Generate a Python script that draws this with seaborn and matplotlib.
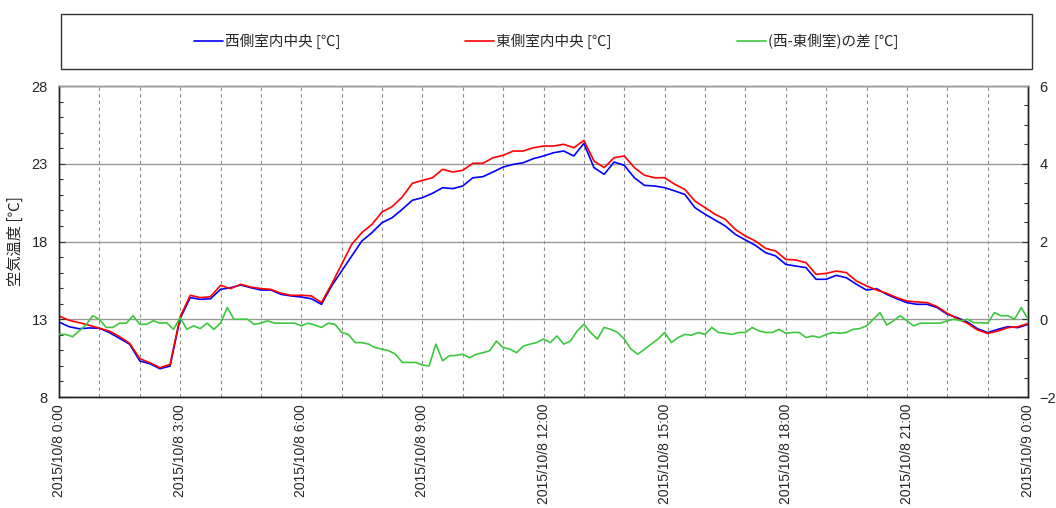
import matplotlib
matplotlib.use("Agg")
import matplotlib.pyplot as plt
from matplotlib.patches import Rectangle
from matplotlib.ticker import FixedLocator, MultipleLocator
import seaborn as sns
import pandas as pd

# ---------------- data (hours after 2015/10/8 0:00) ----------------
hours_15 = [i * 0.25 for i in range(97)]
west = [12.82, 12.52, 12.39, 12.44, 12.42, 12.14, 11.77, 11.39, 10.32, 10.14, 9.82, 9.99,
        13.05, 14.39, 14.28, 14.32, 14.92, 15.03, 15.20, 15.03, 14.88, 14.88, 14.60, 14.50,
        14.43, 14.32, 13.96, 15.14, 16.10, 17.07, 18.03, 18.57, 19.21, 19.53, 20.07, 20.65,
        20.82, 21.10, 21.46, 21.40, 21.57, 22.10, 22.17, 22.47, 22.79, 22.96, 23.07, 23.33,
        23.50, 23.71, 23.82, 23.50, 24.31, 22.75, 22.32, 23.11, 22.90, 22.10, 21.61, 21.57,
        21.46, 21.25, 21.03, 20.18, 19.75, 19.38, 19.00, 18.46, 18.10, 17.75, 17.28, 17.07,
        16.53, 16.42, 16.32, 15.57, 15.57, 15.82, 15.67, 15.25, 14.88, 14.97, 14.60, 14.32,
        14.07, 13.96, 13.96, 13.75, 13.32, 13.10, 12.82, 12.39, 12.14, 12.35, 12.52, 12.46,
        12.67]
east = [13.21, 12.93, 12.78, 12.61, 12.42, 12.24, 11.88, 11.45, 10.47, 10.20, 9.89, 10.10,
        13.15, 14.54, 14.39, 14.45, 15.18, 14.97, 15.25, 15.07, 14.97, 14.92, 14.67, 14.54,
        14.54, 14.50, 14.07, 15.25, 16.53, 17.82, 18.57, 19.10, 19.90, 20.24, 20.86, 21.74,
        21.93, 22.10, 22.64, 22.47, 22.58, 23.03, 23.03, 23.39, 23.54, 23.82, 23.82, 24.03,
        24.14, 24.14, 24.25, 24.03, 24.50, 23.18, 22.75, 23.39, 23.50, 22.75, 22.26, 22.10,
        22.10, 21.68, 21.35, 20.60, 20.18, 19.75, 19.43, 18.78, 18.35, 18.03, 17.56, 17.39,
        16.85, 16.81, 16.64, 15.89, 15.95, 16.10, 16.00, 15.46, 15.14, 14.88, 14.67, 14.39,
        14.17, 14.11, 14.07, 13.81, 13.38, 13.04, 12.74, 12.31, 12.09, 12.24, 12.46, 12.52,
        12.72]

hours_10 = [i / 6 for i in range(145)]
diff = [-0.39, -0.39, -0.45, -0.30, -0.15, 0.09, 0.00, -0.21, -0.21, -0.10, -0.10, 0.09,
        -0.13, -0.13, -0.04, -0.10, -0.09, -0.26, 0.04, -0.26, -0.17, -0.24, -0.10, -0.26,
        -0.10, 0.30, 0.00, 0.00, 0.00, -0.13, -0.10, -0.04, -0.10, -0.10, -0.10, -0.10,
        -0.17, -0.10, -0.15, -0.21, -0.10, -0.13, -0.34, -0.39, -0.60, -0.60, -0.64, -0.73,
        -0.77, -0.81, -0.90, -1.11, -1.11, -1.11, -1.18, -1.20, -0.64, -1.07, -0.94, -0.93,
        -0.90, -0.99, -0.90, -0.86, -0.81, -0.56, -0.73, -0.77, -0.86, -0.69, -0.64, -0.60,
        -0.51, -0.60, -0.43, -0.64, -0.56, -0.30, -0.13, -0.34, -0.51, -0.21, -0.26, -0.34,
        -0.51, -0.77, -0.90, -0.77, -0.64, -0.51, -0.34, -0.60, -0.47, -0.39, -0.41, -0.34,
        -0.39, -0.21, -0.34, -0.36, -0.39, -0.34, -0.34, -0.21, -0.30, -0.34, -0.34, -0.26,
        -0.36, -0.34, -0.34, -0.47, -0.43, -0.47, -0.39, -0.34, -0.36, -0.34, -0.26, -0.24,
        -0.17, 0.00, 0.17, -0.15, -0.04, 0.09, -0.04, -0.17, -0.10, -0.10, -0.10, -0.10,
        -0.04, 0.00, -0.04, 0.00, -0.09, -0.09, -0.10, 0.17, 0.09, 0.09, 0.00, 0.30,
        0.00]

x_tick_hours = [0, 3, 6, 9, 12, 15, 18, 21, 24]
x_tick_labels = ["2015/10/8 0:00", "2015/10/8 3:00", "2015/10/8 6:00", "2015/10/8 9:00",
                 "2015/10/8 12:00", "2015/10/8 15:00", "2015/10/8 18:00", "2015/10/8 21:00",
                 "2015/10/9 0:00"]
left_ticks = [8, 13, 18, 23, 28]
right_ticks = [-2, 0, 2, 4, 6]
series_names = ["西側室内中央 [℃]", "東側室内中央 [℃]", "(西-東側室)の差 [℃]"]
y_label = "空気温度 [℃]"

# ---------------- style ----------------
sns.set_style("white")
plt.rcParams["font.family"] = ["Noto Sans CJK JP", "DejaVu Sans"]
plt.rcParams["axes.unicode_minus"] = True

BLUE, RED, GREEN = "#0000ff", "#ff0000", "#3cc83c"

fig = plt.figure(figsize=(10.56, 5.08), dpi=100)
ax = fig.add_axes([0.0559, 0.2185, 0.9176, 0.6122])
ax2 = ax.twinx()

temp_df = pd.DataFrame({"h": hours_15, "west": west, "east": east})
diff_df = pd.DataFrame({"h": hours_10, "diff": diff})

sns.lineplot(data=temp_df, x="h", y="west", ax=ax, color=BLUE, lw=1.2, zorder=3)
sns.lineplot(data=temp_df, x="h", y="east", ax=ax, color=RED, lw=1.2, zorder=4)
sns.lineplot(data=diff_df, x="h", y="diff", ax=ax2, color=GREEN, lw=1.2, zorder=3)

ax.set_xlim(0, 24)
ax.set_ylim(8, 28)
ax2.set_ylim(-2, 6)

# x axis
ax.xaxis.set_major_locator(FixedLocator(x_tick_hours))
ax.set_xticklabels(x_tick_labels, rotation=90, fontsize=10, family="Liberation Sans")
ax.xaxis.set_minor_locator(MultipleLocator(1))
ax.grid(True, axis="x", which="both", color="#888888", linestyle=(0, (3, 3)), lw=0.8)
ax.set_xlabel("")

# left y axis
ax.yaxis.set_major_locator(FixedLocator(left_ticks))
ax.yaxis.set_minor_locator(MultipleLocator(1))
ax.grid(True, axis="y", which="major", color="#999999", linestyle="-", lw=1.0)
for lab in ax.get_yticklabels():
    lab.set_family("Liberation Sans")
    lab.set_fontsize(10.5)
ax.set_ylabel(y_label, fontsize=11)
ax.yaxis.set_label_coords(-0.036, 0.5)

# right y axis
ax2.yaxis.set_major_locator(FixedLocator(right_ticks))
ax2.yaxis.set_minor_locator(MultipleLocator(0.5))
for lab in ax2.get_yticklabels():
    lab.set_family("Liberation Sans")
    lab.set_fontsize(10.5)
ax2.set_ylabel("")

for a in (ax, ax2):
    a.tick_params(which="both", direction="in", color="#333333")
    a.tick_params(which="major", length=4, width=0.8)
    a.tick_params(which="minor", length=3, width=0.8)
    for side in ("left", "right", "bottom"):
        a.spines[side].set_color("#222222")
        a.spines[side].set_linewidth(1.0)
    a.spines["top"].set_color("#999999")
    a.spines["top"].set_linewidth(1.0)
ax.tick_params(axis="y", which="both", right=False, pad=8)
ax.tick_params(axis="x", which="both", top=False, pad=5)
ax2.tick_params(axis="y", which="both", left=False, pad=8)

# legend with a separate frame
fig.add_artist(Rectangle((0.0578, 0.8642), 0.9195, 0.1083, transform=fig.transFigure,
                         facecolor="white", edgecolor="#333333", lw=1.0))
handles = [plt.Line2D([], [], color=c, lw=1.2) for c in (BLUE, RED, GREEN)]
fig.legend(handles, series_names, loc="center", bbox_to_anchor=(0.517, 0.918), ncol=3,
           frameon=False, fontsize=10.5, handlelength=2.0, handletextpad=0.12,
           columnspacing=8.6)

fig.savefig("out.png", dpi=100)
